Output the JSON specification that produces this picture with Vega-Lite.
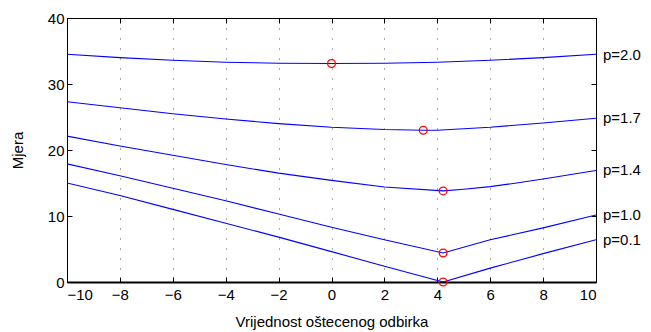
{
  "$schema": "https://vega.github.io/schema/vega-lite/v6.json",
  "width": 529,
  "height": 264,
  "autosize": {"type": "none"},
  "padding": {"left": 67, "top": 18, "right": 55, "bottom": 50},
  "background": "white",
  "config": {
    "view": {"stroke": "black", "strokeWidth": 1},
    "font": "Liberation Sans",
    "axis": {
      "labelFont": "Liberation Sans",
      "titleFont": "Liberation Sans",
      "labelFontSize": 15,
      "titleFontSize": 15,
      "titleFontWeight": "normal",
      "labelColor": "black",
      "titleColor": "black",
      "domainColor": "black",
      "tickColor": "black",
      "tickSize": -5,
      "grid": false
    }
  },
  "datasets": {
    "curves": [
      {"p": "p=2.0", "x": -10, "y": 34.5}, {"p": "p=2.0", "x": -8, "y": 34.0}, {"p": "p=2.0", "x": -6, "y": 33.6}, {"p": "p=2.0", "x": -4, "y": 33.3}, {"p": "p=2.0", "x": -2, "y": 33.15}, {"p": "p=2.0", "x": 0, "y": 33.1}, {"p": "p=2.0", "x": 2, "y": 33.15}, {"p": "p=2.0", "x": 4, "y": 33.3}, {"p": "p=2.0", "x": 6, "y": 33.6}, {"p": "p=2.0", "x": 8, "y": 34.0}, {"p": "p=2.0", "x": 10, "y": 34.5},
      {"p": "p=1.7", "x": -10, "y": 27.3}, {"p": "p=1.7", "x": -8, "y": 26.4}, {"p": "p=1.7", "x": -6, "y": 25.5}, {"p": "p=1.7", "x": -4, "y": 24.7}, {"p": "p=1.7", "x": -2, "y": 24.0}, {"p": "p=1.7", "x": 0, "y": 23.45}, {"p": "p=1.7", "x": 2, "y": 23.1}, {"p": "p=1.7", "x": 3.47, "y": 23.0}, {"p": "p=1.7", "x": 4, "y": 23.0}, {"p": "p=1.7", "x": 6, "y": 23.45}, {"p": "p=1.7", "x": 8, "y": 24.1}, {"p": "p=1.7", "x": 10, "y": 24.8},
      {"p": "p=1.4", "x": -10, "y": 22.1}, {"p": "p=1.4", "x": -8, "y": 20.6}, {"p": "p=1.4", "x": -6, "y": 19.2}, {"p": "p=1.4", "x": -4, "y": 17.8}, {"p": "p=1.4", "x": -2, "y": 16.5}, {"p": "p=1.4", "x": 0, "y": 15.4}, {"p": "p=1.4", "x": 2, "y": 14.4}, {"p": "p=1.4", "x": 4.22, "y": 13.8}, {"p": "p=1.4", "x": 5, "y": 14.05}, {"p": "p=1.4", "x": 6, "y": 14.45}, {"p": "p=1.4", "x": 7, "y": 15.0}, {"p": "p=1.4", "x": 8, "y": 15.6}, {"p": "p=1.4", "x": 10, "y": 16.9},
      {"p": "p=1.0", "x": -10, "y": 17.9}, {"p": "p=1.0", "x": -8, "y": 16.1}, {"p": "p=1.0", "x": -6, "y": 14.2}, {"p": "p=1.0", "x": -4, "y": 12.3}, {"p": "p=1.0", "x": -2, "y": 10.3}, {"p": "p=1.0", "x": 0, "y": 8.3}, {"p": "p=1.0", "x": 2, "y": 6.4}, {"p": "p=1.0", "x": 4.22, "y": 4.4}, {"p": "p=1.0", "x": 6, "y": 6.4}, {"p": "p=1.0", "x": 8, "y": 8.2}, {"p": "p=1.0", "x": 10, "y": 10.15},
      {"p": "p=0.1", "x": -10, "y": 15.0}, {"p": "p=0.1", "x": -8, "y": 13.1}, {"p": "p=0.1", "x": -6, "y": 11.0}, {"p": "p=0.1", "x": -4, "y": 8.9}, {"p": "p=0.1", "x": -2, "y": 6.8}, {"p": "p=0.1", "x": 0, "y": 4.6}, {"p": "p=0.1", "x": 2, "y": 2.4}, {"p": "p=0.1", "x": 4.22, "y": 0.0}, {"p": "p=0.1", "x": 6, "y": 2.1}, {"p": "p=0.1", "x": 8, "y": 4.3}, {"p": "p=0.1", "x": 10, "y": 6.4}
    ],
    "mins": [
      {"p": "p=2.0", "x": 0, "y": 33.1},
      {"p": "p=1.7", "x": 3.47, "y": 23.0},
      {"p": "p=1.4", "x": 4.22, "y": 13.8},
      {"p": "p=1.0", "x": 4.22, "y": 4.4},
      {"p": "p=0.1", "x": 4.22, "y": 0.0}
    ],
    "labels": [
      {"p": "p=2.0", "x": 10, "y": 34.4},
      {"p": "p=1.7", "x": 10, "y": 24.8},
      {"p": "p=1.4", "x": 10, "y": 16.9},
      {"p": "p=1.0", "x": 10, "y": 10.15},
      {"p": "p=0.1", "x": 10, "y": 6.3}
    ]
  },
  "layer": [
    {
      "data": {"name": "curves"},
      "mark": {"type": "line", "color": "#0000ff", "strokeWidth": 1.1, "clip": true},
      "encoding": {
        "x": {
          "field": "x", "type": "quantitative",
          "scale": {"domain": [-10, 10], "nice": false, "zero": false},
          "axis": {
            "orient": "bottom", "values": [-10, -8, -6, -4, -2, 0, 2, 4, 6, 8, 10],
            "title": "Vrijednost oštecenog odbirka", "titlePadding": 12, "labelPadding": 10,
            "domainWidth": 2,
            "grid": true, "gridColor": "#555555", "gridDash": [1, 9], "gridWidth": 1
          }
        },
        "y": {
          "field": "y", "type": "quantitative",
          "scale": {"domain": [0, 40], "nice": false, "zero": false},
          "axis": {
            "orient": "left", "values": [0, 10, 20, 30, 40],
            "title": "Mjera", "titlePadding": 22, "labelPadding": 8
          }
        },
        "detail": {"field": "p"}
      }
    },
    {
      "data": {"name": "mins"},
      "mark": {"type": "point", "shape": "circle", "filled": false, "color": "#ff0000", "size": 60, "strokeWidth": 1.3, "opacity": 1, "clip": false},
      "encoding": {
        "x": {"field": "x", "type": "quantitative", "axis": null},
        "y": {"field": "y", "type": "quantitative", "axis": null}
      }
    },
    {
      "data": {"name": "labels"},
      "mark": {"type": "text", "align": "left", "baseline": "middle", "dx": 7, "fontSize": 15, "font": "Liberation Sans", "color": "black", "clip": false},
      "encoding": {
        "x": {"field": "x", "type": "quantitative", "axis": null},
        "y": {"field": "y", "type": "quantitative", "axis": null},
        "text": {"field": "p"}
      }
    },
    {
      "data": {"name": "mins"},
      "mark": {"type": "point", "opacity": 0},
      "encoding": {
        "x": {"field": "x", "type": "quantitative",
          "axis": {"orient": "top", "values": [-10, -8, -6, -4, -2, 0, 2, 4, 6, 8, 10], "labels": false, "title": null, "grid": false}},
        "y": {"field": "y", "type": "quantitative",
          "axis": {"orient": "right", "values": [0, 10, 20, 30, 40], "labels": false, "title": null, "grid": false}}
      }
    }
  ],
  "resolve": {"axis": {"x": "independent", "y": "independent"}}
}
